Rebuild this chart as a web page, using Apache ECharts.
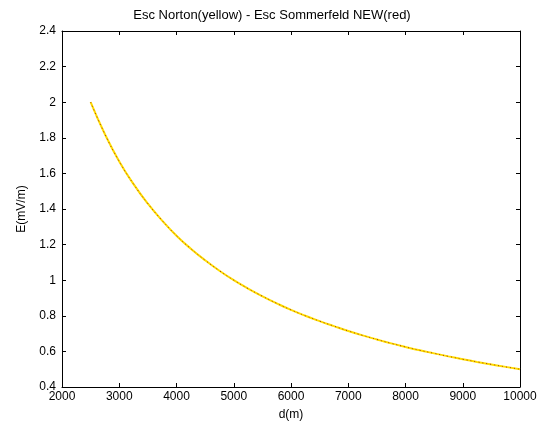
<!DOCTYPE html>
<html>
<head>
<meta charset="utf-8">
<script src="https://cdn.jsdelivr.net/npm/echarts@6/dist/echarts.min.js"></script>
<style>html,body{margin:0;padding:0;background:#fff}#c{width:544px;height:432px}</style>
</head>
<body>
<div id="c"></div>
<script>
var distances = [2500,2750,3000,3250,3500,3750,4000,4250,4500,4750,5000,5250,5500,5750,6000,6250,6500,6750,7000,7250,7500,7750,8000,8250,8500,8750,9000,9250,9500,9750,10000];
var nortonYellow = [2.00,1.82,1.667,1.54,1.43,1.335,1.25,1.177,1.112,1.053,1.00,0.953,0.91,0.87,0.833,0.80,0.77,0.742,0.715,0.69,0.667,0.645,0.625,0.606,0.589,0.572,0.556,0.541,0.527,0.513,0.50];
var sommerfeldRed = [2.00,1.82,1.667,1.54,1.43,1.335,1.25,1.177,1.112,1.053,1.00,0.953,0.91,0.87,0.833,0.80,0.77,0.742,0.715,0.69,0.667,0.645,0.625,0.606,0.589,0.572,0.556,0.541,0.527,0.513,0.50];
var titleText = 'Esc Norton(yellow) - Esc Sommerfeld NEW(red)';
var xName = 'd(m)';
var yName = 'E(mV/m)';

function pairs(xs, ys){ return xs.map(function(x,i){ return [x, ys[i]]; }); }

var font = 'Liberation Sans, Arial, sans-serif';
var chart = echarts.init(document.getElementById('c'), null, {renderer:'canvas'});
var axisLine = {show:true, lineStyle:{color:'#000', width:1}};
var tick = {show:true, inside:true, length:4, lineStyle:{color:'#000'}};
chart.setOption({
  animation:false,
  backgroundColor:'#fff',
  title:{text:titleText, left:'center', top:4, textStyle:{fontFamily:font, fontSize:13, fontWeight:'normal', color:'#000'}},
  grid:{left:62, right:24, top:31, bottom:45},
  xAxis:[
    {type:'value', min:2000, max:10000, interval:1000, position:'bottom',
     name:xName, nameLocation:'middle', nameGap:22, nameTextStyle:{fontFamily:font, fontSize:12, color:'#000'},
     axisLine:axisLine, axisTick:tick, splitLine:{show:false},
     axisLabel:{fontFamily:font, fontSize:12, color:'#000', margin:4,
       formatter:function(v){ return String(v); }}},
    {type:'value', min:2000, max:10000, interval:1000, position:'top',
     axisLine:axisLine, axisTick:tick, splitLine:{show:false}, axisLabel:{show:false}}
  ],
  yAxis:[
    {type:'value', min:0.4, max:2.4, interval:0.2, position:'left',
     name:yName, nameLocation:'middle', nameGap:34, nameTextStyle:{fontFamily:font, fontSize:12, color:'#000'},
     axisLine:axisLine, axisTick:tick, splitLine:{show:false},
     axisLabel:{fontFamily:font, fontSize:12, color:'#000', margin:6,
       formatter:function(v){ return String(Math.round(v*10)/10); }}},
    {type:'value', min:0.4, max:2.4, interval:0.2, position:'right',
     axisLine:axisLine, axisTick:tick, splitLine:{show:false}, axisLabel:{show:false}}
  ],
  series:[
    {type:'line', name:'Norton', data:pairs(distances, nortonYellow), smooth:true, showSymbol:false,
     lineStyle:{color:'#ffdd00', width:2}},
    {type:'line', name:'Sommerfeld', data:pairs(distances, sommerfeldRed), smooth:true, showSymbol:false,
     lineStyle:{color:'#a83a10', width:1, type:[1,3]}}
  ]
});
</script>
</body>
</html>
